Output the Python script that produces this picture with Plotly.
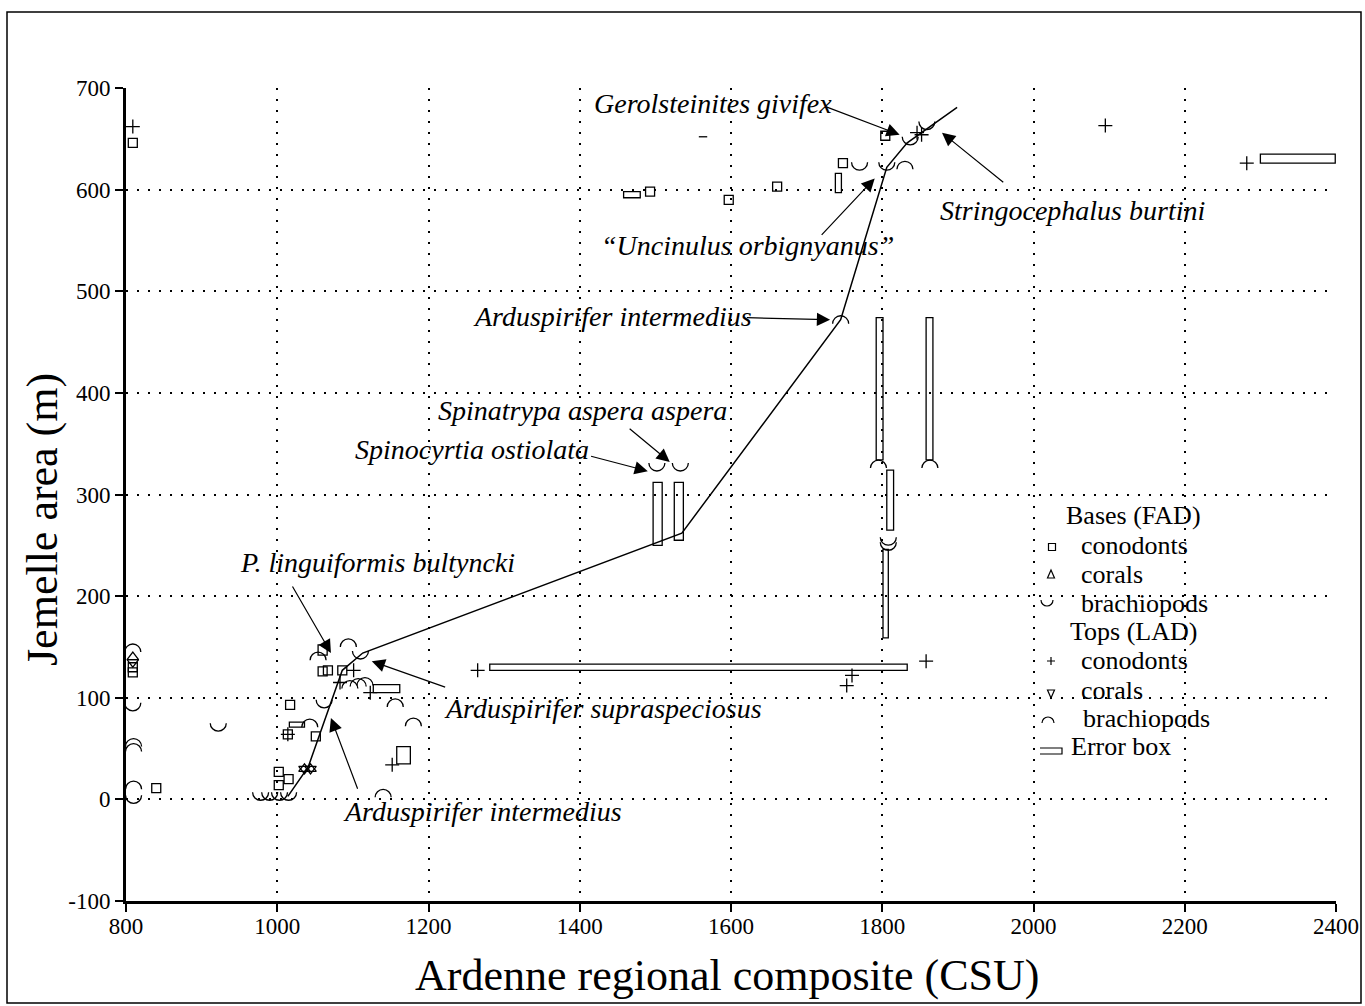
import plotly.graph_objects as go

# ---- data -----------------------------------------------------------------
# conodont first appearances (bases) and last appearances (tops)
cono_base_x = [809, 809, 809, 840, 1002, 1015, 1002, 1014, 1017, 1051, 1060, 1067, 1086, 1493, 1597, 1661, 1748, 1804]
cono_base_y = [646, 130, 125, 11, 27, 20, 14, 64, 93, 62, 126, 127, 127, 598, 590, 603, 626, 653]
cono_top_x = [809, 1014, 1101, 1083, 1123, 1152, 1265, 1760, 1753, 1858, 1846, 1852, 2095, 2282]
cono_top_y = [662, 64, 127, 115, 105, 34, 127, 122, 112, 136, 656, 654, 663, 626]
# conodont top whose level is marked by a bare dash
cono_dash_x = [1563]
cono_dash_y = [652]

# coral bases and tops
coral_base_x = [809, 1036, 1044]
coral_base_y = [140, 30, 30]
coral_top_x = [809, 1036, 1044]
coral_top_y = [135, 30, 30]

# brachiopod bases and tops
brach_base_x = [809, 810, 922, 978, 990, 1003, 1015, 1062, 1110, 1502, 1533, 1770, 1806, 1837, 1859, 1808, 1808]
brach_base_y = [95, 4, 75, 7, 7, 7, 7, 98, 146, 331, 331, 627, 627, 652, 667, 258, 253]
brach_top_x = [809, 810, 810, 810, 1043, 1054, 1094, 1096, 1107, 1116, 1156, 1180, 1140, 1745, 1795, 1863, 1830]
brach_top_y = [145, 52, 47, 10, 71, 137, 150, 109, 111, 112, 91, 72, 2, 468, 326, 326, 620]

# error boxes (CSU range x Jemelle range)
box_x0 = [1281, 2300, 1792, 1858, 1806, 1801, 1497, 1525, 1458, 1738, 1127, 1158, 1016, 1054]
box_x1 = [1833, 2399, 1801, 1867, 1815, 1808, 1509, 1537, 1480, 1746, 1162, 1176, 1036, 1066]
box_y0 = [127, 626, 334, 334, 265, 159, 250, 255, 592, 597, 105, 35, 71, 142]
box_y1 = [133, 635, 474, 474, 324, 246, 312, 312, 598, 616, 113, 52, 76, 152]

# line of correlation
loc_x = [1014, 1041, 1086, 1113, 1535, 1745, 1806, 1833, 1899]
loc_y = [3, 32, 127, 144, 262, 472, 622, 646, 681]

x_ticks = [800, 1000, 1200, 1400, 1600, 1800, 2000, 2200, 2400]
y_ticks = [-100, 0, 100, 200, 300, 400, 500, 600, 700]
y_tick_text = ["-100", "0", "100", "200", "300", "400", "500", "600", "700"]

# taxon call-outs: text, text position, arrow tail, arrow head (data units)
callouts = [
    ("Gerolsteinites givifex", 1576, 685, 1724, 682, 1823, 654),
    ("Stringocephalus burtini", 2052, 579, 1962, 606, 1879, 656),
    ("\u201cUncinulus orbignyanus\u201d", 1622, 545, 1718, 554, 1790, 611),
    ("Arduspirifer intermedius", 1443, 475, 1619, 474, 1731, 472),
    ("Spinatrypa aspera aspera", 1403, 383, 1464, 366, 1519, 332),
    ("Spinocyrtia ostiolata", 1257, 344, 1413, 338, 1490, 323),
    ("P. linguiformis bultyncki", 1133, 233, 1019, 211, 1071, 144),
    ("Arduspirifer supraspeciosus", 1431, 89, 1224, 110, 1125, 136),
    ("Arduspirifer intermedius", 1271, -12, 1107, 9, 1071, 80),
]

SERIF = "Liberation Serif, Times New Roman, serif"
INK = "black"

# plot-area geometry in pixels
W, H = 1365, 1006
ML, MR, MT, MB = 126, 29, 88, 105
PW, PH = W - ML - MR, H - MT - MB


def px_to_paper(px, py):
    return (px - ML) / PW, (H - MB - py) / PH


def half_circle(r, up):
    """Semicircle path in pixels around the anchor (positive y is up)."""
    k = 0.5523 * r
    s = 1 if up else -1
    return (f"M{-r},0 C{-r},{s * k} {-k},{s * r} 0,{s * r} "
            f"C{k},{s * r} {r},{s * k} {r},0")


fig = go.Figure()

# line of correlation
fig.add_trace(go.Scatter(x=loc_x, y=loc_y, mode="lines",
                         line=dict(color=INK, width=1.5), hoverinfo="skip"))

marker_line = dict(color=INK, width=1.3)
fig.add_trace(go.Scatter(x=cono_base_x, y=cono_base_y, mode="markers",
                         marker=dict(symbol="square-open", size=9, color=INK, line=marker_line)))
fig.add_trace(go.Scatter(x=cono_top_x, y=cono_top_y, mode="markers",
                         marker=dict(symbol="cross-thin-open", size=10, color=INK, line=marker_line)))
fig.add_trace(go.Scatter(x=cono_dash_x, y=cono_dash_y, mode="markers",
                         marker=dict(symbol="line-ew-open", size=6, color=INK, line=marker_line)))
fig.add_trace(go.Scatter(x=coral_base_x, y=coral_base_y, mode="markers",
                         marker=dict(symbol="triangle-up-open", size=10, color=INK, line=marker_line)))
fig.add_trace(go.Scatter(x=coral_top_x, y=coral_top_y, mode="markers",
                         marker=dict(symbol="triangle-down-open", size=10, color=INK, line=marker_line)))

shapes = []

# brachiopods: cup for bases, cap for tops
for bx, by in zip(brach_base_x, brach_base_y):
    shapes.append(dict(type="path", xref="x", yref="y", xsizemode="pixel", ysizemode="pixel",
                       xanchor=bx, yanchor=by, path=half_circle(8, up=False),
                       line=dict(color=INK, width=1.3)))
for bx, by in zip(brach_top_x, brach_top_y):
    shapes.append(dict(type="path", xref="x", yref="y", xsizemode="pixel", ysizemode="pixel",
                       xanchor=bx, yanchor=by, path=half_circle(8, up=True),
                       line=dict(color=INK, width=1.3)))

# error boxes
for x0, x1, y0, y1 in zip(box_x0, box_x1, box_y0, box_y1):
    shapes.append(dict(type="rect", xref="x", yref="y", x0=x0, x1=x1, y0=y0, y1=y1,
                       line=dict(color=INK, width=1.3), fillcolor="rgba(0,0,0,0)"))

# outer frame
fx0, fy0 = px_to_paper(7, 1003)
fx1, fy1 = px_to_paper(1361, 12)
shapes.append(dict(type="rect", xref="paper", yref="paper", x0=fx0, x1=fx1, y0=fy0, y1=fy1,
                   line=dict(color=INK, width=1.5), layer="below"))

# ---- key -----------------------------------------------------------------
annotations = []
key_rows = [
    ("Bases (FAD)", None, 515, 1064),
    ("conodonts", "square", 545, 1079),
    ("corals", "tri_up", 574, 1079),
    ("brachiopods", "cup", 603, 1079),
    ("Tops (LAD)", None, 631, 1068),
    ("conodonts", "plus", 660, 1079),
    ("corals", "tri_down", 690, 1079),
    ("brachiopods", "cap", 718, 1081),
    ("Error box", "box", 746, 1069),
]
key_paths = {
    "square": "M-3.5,-3.5 L3.5,-3.5 L3.5,3.5 L-3.5,3.5 Z",
    "tri_up": "M0,5 L3.5,-3 L-3.5,-3 Z",
    "tri_down": "M0,-5 L3.5,3 L-3.5,3 Z",
    "plus": "M-4,0 L4,0 M0,-4 L0,4",
    "cup": half_circle(6, up=False),
    "cap": half_circle(6, up=True),
    "box": "M-11,3 L11,3 L11,-3 L-11,-3",
}
key_offsets = {"square": (1052, 2), "tri_up": (1051, 1), "tri_down": (1051, 3), "plus": (1051, 1),
               "cup": (1047, -3), "cap": (1048, 5), "box": (1051, 5)}
for label, sym, py, tx in key_rows:
    ax_, ay_ = px_to_paper(tx, py)
    annotations.append(dict(text=label, xref="paper", yref="paper", x=ax_, y=ay_,
                            xanchor="left", yanchor="middle", showarrow=False,
                            font=dict(family=SERIF, size=26, color=INK)))
    if sym:
        sx, dy = key_offsets[sym]
        kx, ky = px_to_paper(sx, py + dy)
        shapes.append(dict(type="path", xref="paper", yref="paper", xsizemode="pixel",
                           ysizemode="pixel", xanchor=kx, yanchor=ky, path=key_paths[sym],
                           line=dict(color=INK, width=1.2)))

# ---- call-outs ------------------------------------------------------------
for text, lx, ly, tx, ty, hx, hy in callouts:
    annotations.append(dict(text=f"<i>{text}</i>", x=lx, y=ly, xref="x", yref="y",
                            showarrow=False, xanchor="center", yanchor="middle",
                            font=dict(family=SERIF, size=28, color=INK)))
    annotations.append(dict(text="", x=hx, y=hy, xref="x", yref="y",
                            ax=tx, ay=ty, axref="x", ayref="y", showarrow=True,
                            arrowhead=2, arrowsize=2.2, arrowwidth=1.2, arrowcolor=INK,
                            standoff=0, startstandoff=0))

# axis titles
tx_, ty_ = px_to_paper(727, 975)
annotations.append(dict(text="Ardenne regional composite (CSU)", xref="paper", yref="paper",
                        x=tx_, y=ty_, showarrow=False, xanchor="center", yanchor="middle",
                        font=dict(family=SERIF, size=44, color=INK)))
tx_, ty_ = px_to_paper(42, 520)
annotations.append(dict(text="Jemelle area (m)", xref="paper", yref="paper", textangle=-90,
                        x=tx_, y=ty_, showarrow=False, xanchor="center", yanchor="middle",
                        font=dict(family=SERIF, size=44, color=INK)))

axis_common = dict(showline=True, linecolor=INK, linewidth=3, ticks="outside", ticklen=8,
                   tickwidth=2, tickcolor=INK, showgrid=True, gridcolor=INK, gridwidth=2,
                   griddash="2px,9px", zeroline=False, mirror=False, automargin=False,
                   tickfont=dict(family=SERIF, size=23, color=INK))

fig.update_layout(
    width=W, height=H, margin=dict(l=ML, r=MR, t=MT, b=MB, autoexpand=False),
    paper_bgcolor="white", plot_bgcolor="white", showlegend=False,
    xaxis=dict(range=[800, 2400], tickvals=x_ticks, ticklabelstandoff=-6, **axis_common),
    yaxis=dict(range=[-100, 700], tickvals=y_ticks, ticktext=y_tick_text, **axis_common),
    shapes=shapes, annotations=annotations,
)

fig.write_html("out.html")
